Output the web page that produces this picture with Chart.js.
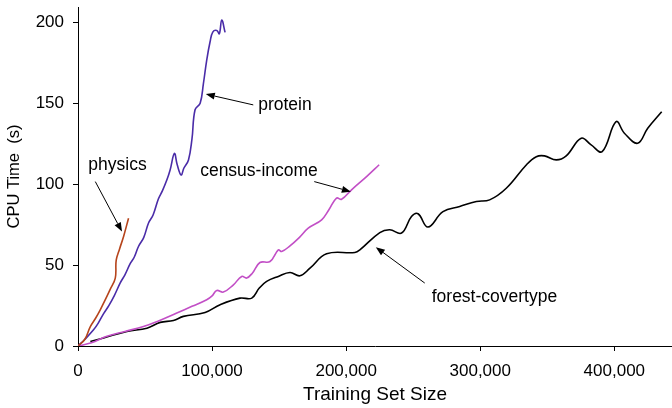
<!DOCTYPE html>
<html>
<head>
<meta charset="utf-8">
<script src="https://cdn.jsdelivr.net/npm/chart.js@4/dist/chart.umd.min.js"></script>
<style>
  html, body { margin: 0; padding: 0; background: #fff; }
  #wrap { width: 672px; height: 408px; }
</style>
</head>
<body>
<div id="wrap"><canvas id="chart"></canvas></div>
<script>
// training set size / cpu seconds
var physicsX = [0, 5000, 9200, 13000, 16600, 20000, 24000, 27800, 28500, 31000, 34000, 37700];
var physicsY = [0, 4, 12, 17, 22.4, 28, 35, 42, 53, 60, 67.7, 79];

var proteinX = [0, 5000, 11600, 15000, 19100, 23000, 27000, 31500, 35000, 39000, 42000, 45100, 49000, 52600,
    56000, 60000, 63000, 66300, 68700, 71900, 74000, 76900, 79000, 82400, 85000, 87300, 91100, 93500, 96000,
    98500, 100500, 103500, 105400, 107200, 109700];
var proteinY = [0, 4, 10, 14, 20, 25, 31, 39, 44, 51, 55, 61.5, 67, 76,
    81, 91, 96, 102.7, 108.8, 119, 112, 105.7, 110, 115, 128, 146, 150, 162, 176.7,
    188, 194, 195, 193, 201.5, 193.8];

var censusX = [0, 10000, 21600, 35000, 48800, 60000, 73700, 85000, 96000, 100000, 103500, 108400, 115900,
    122100, 125800, 130000, 135700, 143200, 149400, 151900, 158100, 165000, 171700, 181700, 187000, 192800,
    196600, 204000, 215200, 224600];
var censusY = [0, 2, 6, 9, 12, 15.5, 20.4, 24.5, 28.6, 31, 34.3, 33.3, 37.8,
    43, 42, 45, 51.6, 52.2, 59.4, 58.4, 61.9, 67, 72.8, 78, 84, 91.4,
    90.7, 96.5, 104.7, 112];

var forestX = [9200, 19100, 36500, 51400, 61300, 71200, 78600, 94800, 106000, 120800, 129600, 135200, 140700,
    149400, 158100, 165500, 173000, 185400, 206500, 210200, 225100, 232500, 241300, 248700, 253600, 261000,
    272200, 284700, 297100, 307000, 319400, 334300, 341800, 347900, 356700, 364100, 375300, 382700, 390900,
    401300, 407500, 417400, 424900, 435300];
var forestY = [2.8, 5, 9, 11, 14.6, 15.8, 18.3, 20.7, 25.5, 29.6, 29.6, 35.8, 39.9,
    43, 45.4, 43.4, 48.1, 57, 57.8, 59.4, 70.1, 71.8, 69.8, 80, 81.7, 73.5,
    83, 86.2, 89.3, 90.3, 97.5, 111.9, 117, 117.5, 115, 117.5, 128.4, 124.3, 120.1,
    138.6, 131.5, 125.3, 134.6, 144.8];

var xTicks = [0, 100000, 200000, 300000, 400000];
var yTicks = [0, 50, 100, 150, 200];

// labels with arrows, in data units: text anchor, arrow tail, arrow head
var notes = [
    { text: 'physics',          tx: 7700,   ty: 112,   fx: 12900,  fy: 101.6, hx: 32800,  hy: 70.7 },
    { text: 'protein',          tx: 134400, ty: 149,   fx: 130700, fy: 149,   hx: 95300,  hy: 155.7 },
    { text: 'census-income',    tx: 91100,  ty: 108.2, fx: 176200, fy: 101.6, hx: 203500, hy: 95.4 },
    { text: 'forest-covertype', tx: 263800, ty: 30,    fx: 258600, fy: 38.9,  hx: 222100, hy: 61.1 }
];

var FONT = '"Liberation Sans", Arial, Helvetica, sans-serif';

function pairs(xs, ys) {
    var out = [];
    for (var i = 0; i < xs.length; i++) {
        out.push({ x: xs[i], y: ys[i] });
    }
    return out;
}

function series(label, xs, ys, color) {
    return {
        label: label,
        data: pairs(xs, ys),
        borderColor: color,
        borderWidth: 1.6,
        pointRadius: 0,
        tension: 0.4,
        fill: false
    };
}

var notesPlugin = {
    id: 'notes',
    afterDatasetsDraw: function(chart) {
        var ctx = chart.ctx;
        var xs = chart.scales.x, ys = chart.scales.y;
        ctx.save();
        ctx.fillStyle = '#000';
        ctx.strokeStyle = '#000';
        ctx.lineWidth = 1;
        ctx.font = '17.5px ' + FONT;
        ctx.textBaseline = 'middle';
        ctx.textAlign = 'left';
        for (var i = 0; i < notes.length; i++) {
            var n = notes[i];
            ctx.fillText(n.text, xs.getPixelForValue(n.tx), ys.getPixelForValue(n.ty));

            var x1 = xs.getPixelForValue(n.fx), y1 = ys.getPixelForValue(n.fy);
            var x2 = xs.getPixelForValue(n.hx), y2 = ys.getPixelForValue(n.hy);
            var a = Math.atan2(y2 - y1, x2 - x1);
            var len = 9, wid = 3.5;
            var bx = x2 - len * Math.cos(a), by = y2 - len * Math.sin(a);
            ctx.beginPath();
            ctx.moveTo(x1, y1);
            ctx.lineTo(bx, by);
            ctx.stroke();
            ctx.beginPath();
            ctx.moveTo(x2, y2);
            ctx.lineTo(bx + wid * Math.sin(a), by - wid * Math.cos(a));
            ctx.lineTo(bx - wid * Math.sin(a), by + wid * Math.cos(a));
            ctx.closePath();
            ctx.fill();
        }
        ctx.restore();
    }
};

function noPad(scale) {
    scale.paddingTop = 0;
    scale.paddingBottom = 0;
    scale.paddingLeft = 0;
    scale.paddingRight = 0;
}

var ctx = document.getElementById('chart').getContext('2d');
new Chart(ctx, {
    type: 'line',
    data: {
        datasets: [
            series('physics', physicsX, physicsY, '#b6441c'),
            series('protein', proteinX, proteinY, '#4a2ca8'),
            series('census-income', censusX, censusY, '#c24fc6'),
            series('forest-covertype', forestX, forestY, '#000000')
        ]
    },
    options: {
        responsive: true,
        maintainAspectRatio: false,
        animation: false,
        layout: { padding: { top: 7, right: 0, bottom: 0, left: 0 } },
        plugins: {
            legend: { display: false },
            tooltip: { enabled: false }
        },
        scales: {
            x: {
                type: 'linear',
                min: 0,
                max: 443000,
                afterBuildTicks: function(scale) {
                    scale.ticks = xTicks.map(function(v) { return { value: v }; });
                },
                afterFit: function(scale) {
                    scale.height = 62;
                    noPad(scale);
                },
                grid: { drawOnChartArea: false, tickLength: 5, color: '#000' },
                border: { color: '#000', width: 1 },
                ticks: {
                    color: '#000',
                    padding: 10,
                    maxRotation: 0,
                    font: { family: FONT, size: 17 },
                    callback: function(v) { return v.toLocaleString('en-US'); }
                },
                title: {
                    display: true,
                    text: 'Training Set Size',
                    color: '#000',
                    font: { family: FONT, size: 19 },
                    padding: { top: 4, bottom: 2 }
                }
            },
            y: {
                type: 'linear',
                min: 0,
                max: 209.5,
                afterBuildTicks: function(scale) {
                    scale.ticks = yTicks.map(function(v) { return { value: v }; });
                },
                afterFit: function(scale) {
                    scale.width = 78;
                    noPad(scale);
                },
                grid: { drawOnChartArea: false, tickLength: 5, color: '#000' },
                border: { color: '#000', width: 1 },
                ticks: {
                    color: '#000',
                    padding: 9,
                    font: { family: FONT, size: 17 }
                },
                title: {
                    display: true,
                    text: 'CPU Time  (s)',
                    color: '#000',
                    font: { family: FONT, size: 16.5 },
                    padding: { top: 5, bottom: 0 }
                }
            }
        }
    },
    plugins: [notesPlugin]
});
</script>
</body>
</html>
